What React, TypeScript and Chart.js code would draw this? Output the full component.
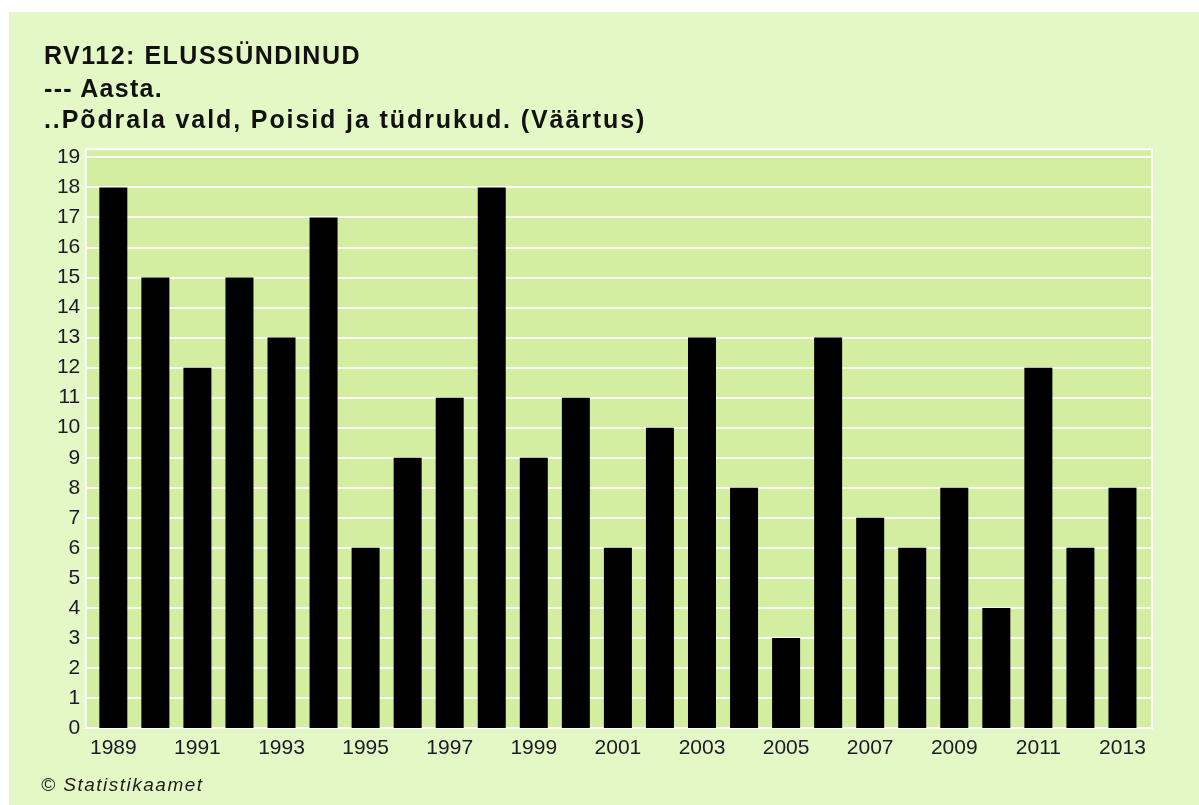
import React, { useEffect, useRef } from "react";
import { Chart, registerables } from "chart.js";

Chart.register(...registerables);

const years = [
  "1989", "1990", "1991", "1992", "1993", "1994", "1995", "1996", "1997", "1998",
  "1999", "2000", "2001", "2002", "2003", "2004", "2005", "2006", "2007", "2008",
  "2009", "2010", "2011", "2012", "2013",
];
const births = [18, 15, 12, 15, 13, 17, 6, 9, 11, 18, 9, 11, 6, 10, 13, 8, 3, 13, 7, 6, 8, 4, 12, 6, 8];
const titleLines = [
  "RV112: ELUSSÜNDINUD",
  "--- Aasta.",
  "..Põdrala vald, Poisid ja tüdrukud. (Väärtus)",
];
const footerText = "© Statistikaamet";
const yTickStep = 1;
const yMin = 0;
const yMax = 19.27;

const FONT = '"Liberation Sans", Arial, sans-serif';
const PANEL_BG = "#e3f8c4";
const PLOT_BG = "#d3eda1";
const W = 1190;
const H = 793;

const plotBgPlugin = {
  id: "plotBg",
  beforeDraw(chart: any) {
    const { ctx, chartArea } = chart;
    const y = chart.scales.y;
    const left = chartArea.left - 6.6;
    const right = chartArea.right + 8.5;
    const top = chartArea.top;
    const bottom = chartArea.bottom;
    ctx.save();
    ctx.fillStyle = PLOT_BG;
    ctx.fillRect(left, top, right - left, bottom - top);
    ctx.strokeStyle = "#fbfef2";
    ctx.lineWidth = 2;
    for (const t of y.ticks) {
      const py = Math.round(y.getPixelForValue(t.value));
      ctx.beginPath();
      ctx.moveTo(left, py);
      ctx.lineTo(right, py);
      ctx.stroke();
    }
    ctx.strokeStyle = "#ffffff";
    ctx.lineWidth = 2;
    ctx.strokeRect(left, top, right - left, bottom - top);
    ctx.restore();
  },
};

export default function App() {
  const ref = useRef<HTMLCanvasElement>(null);

  useEffect(() => {
    if (!ref.current) return;
    const chart = new Chart(ref.current, {
      type: "bar",
      data: {
        labels: years,
        datasets: [
          {
            data: births,
            backgroundColor: "#000000",
            borderWidth: 0,
            barPercentage: 0.666,
            categoryPercentage: 1,
          },
        ],
      },
      options: {
        responsive: false,
        animation: false,
        devicePixelRatio: 1,
        layout: { padding: { left: 0, right: 55.5, top: 137.3, bottom: 37 } },
        plugins: {
          legend: { display: false },
          title: { display: false },
          tooltip: { enabled: false },
        },
        scales: {
          x: {
            grid: { display: false, drawTicks: false },
            border: { display: false },
            ticks: {
              autoSkip: false,
              maxRotation: 0,
              minRotation: 0,
              padding: 8,
              color: "#1a1a28",
              font: { family: FONT, size: 21 },
              callback: (_v: any, i: number) => (i % 2 === 0 ? years[i] : ""),
            },
            afterFit: (s: any) => {
              s.height = 40;
            },
          },
          y: {
            min: yMin,
            max: yMax,
            grid: { display: false, drawTicks: false },
            border: { display: false },
            ticks: {
              stepSize: yTickStep,
              includeBounds: false,
              padding: 12,
              color: "#1a1a28",
              font: { family: FONT, size: 21 },
            },
            afterFit: (s: any) => {
              s.width = 83.3;
            },
          },
        },
      },
      plugins: [plotBgPlugin],
    });
    return () => chart.destroy();
  }, []);

  const titleTops = [27.6, 61, 92];
  const titleSpacing = ["1.5px", "1.3px", "1.9px"];

  return (
    <div
      style={{
        position: "fixed",
        left: 9,
        top: 12,
        width: W,
        height: H,
        background: PANEL_BG,
        overflow: "hidden",
      }}
    >
      <canvas
        ref={ref}
        width={W}
        height={H}
        style={{ position: "absolute", left: 0, top: 0, width: W, height: H }}
      />
      {titleLines.map((t, i) => (
        <div
          key={i}
          style={{
            position: "absolute",
            left: 35,
            top: titleTops[i],
            fontFamily: FONT,
            fontWeight: "bold",
            fontSize: 25,
            lineHeight: "30px",
            letterSpacing: titleSpacing[i],
            color: "#111111",
            whiteSpace: "nowrap",
          }}
        >
          {t}
        </div>
      ))}
      <div
        style={{
          position: "absolute",
          left: 32,
          top: 761.5,
          fontFamily: FONT,
          fontStyle: "italic",
          fontSize: 19,
          lineHeight: "22px",
          letterSpacing: "1.5px",
          color: "#1c1c1c",
          whiteSpace: "nowrap",
        }}
      >
        {footerText}
      </div>
    </div>
  );
}
